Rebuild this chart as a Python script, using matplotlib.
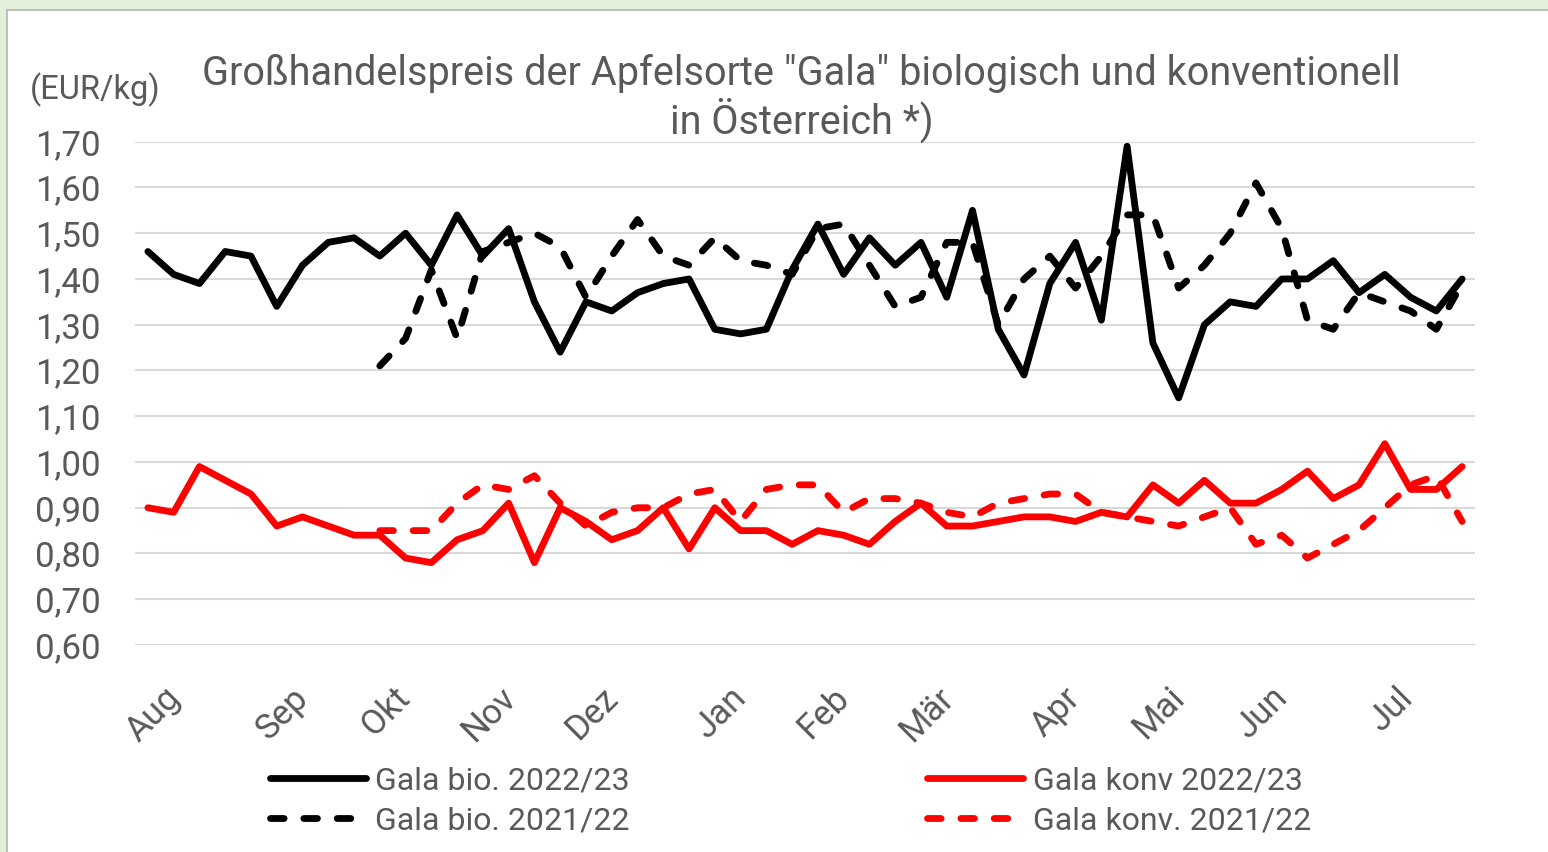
import matplotlib
matplotlib.use("Agg")
import matplotlib.pyplot as plt
from matplotlib.patches import Rectangle
from matplotlib.transforms import ScaledTranslation
import numpy as np

plt.rcParams['font.family'] = ['Roboto', 'DejaVu Sans']

# weekly prices Aug 2022 - Jul 2023 (52 weeks), EUR/kg
nan = np.nan
bio_2223 = [1.46, 1.41, 1.39, 1.46, 1.45, 1.34, 1.43, 1.48, 1.49, 1.45,
            1.50, 1.43, 1.54, 1.45, 1.51, 1.35, 1.24, 1.35, 1.33, 1.37,
            1.39, 1.40, 1.29, 1.28, 1.29, 1.42, 1.52, 1.41, 1.49, 1.43,
            1.48, 1.36, 1.55, 1.29, 1.19, 1.39, 1.48, 1.31, 1.69, 1.26,
            1.14, 1.30, 1.35, 1.34, 1.40, 1.40, 1.44, 1.37, 1.41, 1.36,
            1.33, 1.40]
bio_2122 = [nan, nan, nan, nan, nan, nan, nan, nan, nan, 1.21,
            1.27, 1.42, 1.27, 1.46, 1.48, 1.50, 1.47, 1.36, 1.45, 1.53,
            1.45, 1.43, 1.49, 1.44, 1.43, 1.41, 1.51, 1.52, 1.43, 1.34,
            1.36, 1.48, 1.48, 1.30, 1.40, 1.45, 1.38, 1.45, 1.54, 1.54,
            1.38, 1.43, 1.50, 1.61, 1.51, 1.31, 1.29, 1.37, 1.35, 1.33,
            1.29, 1.39]
konv_2223 = [0.90, 0.89, 0.99, 0.96, 0.93, 0.86, 0.88, 0.86, 0.84, 0.84,
             0.79, 0.78, 0.83, 0.85, 0.91, 0.78, 0.90, 0.87, 0.83, 0.85,
             0.90, 0.81, 0.90, 0.85, 0.85, 0.82, 0.85, 0.84, 0.82, 0.87,
             0.91, 0.86, 0.86, 0.87, 0.88, 0.88, 0.87, 0.89, 0.88, 0.95,
             0.91, 0.96, 0.91, 0.91, 0.94, 0.98, 0.92, 0.95, 1.04, 0.94,
             0.94, 0.99]
konv_2122 = [nan, nan, nan, nan, nan, nan, nan, nan, nan, 0.85,
             0.85, 0.85, 0.91, 0.95, 0.94, 0.97, 0.91, 0.86, 0.89, 0.90,
             0.90, 0.93, 0.94, 0.87, 0.94, 0.95, 0.95, 0.89, 0.92, 0.92,
             0.91, 0.89, 0.88, 0.91, 0.92, 0.93, 0.93, 0.89, 0.88, 0.87,
             0.86, 0.88, 0.90, 0.82, 0.84, 0.79, 0.82, 0.85, 0.90, 0.95,
             0.97, 0.87]
month_pos = [0, 5, 9, 13, 17, 22, 26, 30, 35, 39, 43, 48]
month_lbl = ["Aug", "Sep", "Okt", "Nov", "Dez", "Jan", "Feb", "Mär", "Apr", "Mai", "Jun", "Jul"]

grey = '#595959'
fig = plt.figure(figsize=(15.48, 8.52), dpi=100)
fig.patch.set_facecolor('#E2EFDA')
fig.patches.append(Rectangle((7/1548, -0.1), 1.1, 1 - 10/852 + 0.1, transform=fig.transFigure,
                             facecolor='white', edgecolor='#BFBFBF', linewidth=1.5, zorder=-10))

ax = fig.add_axes([135/1548, 1 - 645/852, (1475 - 135)/1548, (645 - 141.7)/852])
ax.set_facecolor('none')
x = np.arange(len(bio_2223))

kw = dict(solid_capstyle='round', dash_capstyle='round', solid_joinstyle='round', dash_joinstyle='round')
lw = 4.9
dash = (2.0, 2.9)
l1, = ax.plot(x, bio_2223, color='black', lw=lw, **kw)
l2, = ax.plot(x, bio_2122, color='black', lw=lw, dashes=dash, **kw)
l3, = ax.plot(x, konv_2223, color='#FF0000', lw=lw, **kw)
l4, = ax.plot(x, konv_2122, color='#FF0000', lw=lw, dashes=dash, **kw)

ax.set_xlim(-0.5, len(x) - 0.5)
ax.set_ylim(0.6, 1.7)
ax.set_yticks(np.arange(0.6, 1.71, 0.1))
ax.set_yticklabels([f"{v:.2f}".replace('.', ',') for v in np.arange(0.6, 1.71, 0.1)])
ax.grid(axis='y', color='#D9D9D9', lw=1.5)
ax.set_axisbelow(True)
for s in ax.spines.values():
    s.set_visible(False)
ax.tick_params(axis='y', length=0, pad=25, labelsize=25, labelcolor=grey)
ax.set_xticks(month_pos)
ax.set_xticklabels(month_lbl, rotation=45, ha='center')
ax.tick_params(axis='x', length=0, pad=26, labelsize=25, labelcolor=grey)
shift = ScaledTranslation(6/100, 0, fig.dpi_scale_trans)
for t in ax.get_xticklabels():
    t.set_transform(t.get_transform() + shift)

fig.text(0.518, 1 - 73/852, 'Großhandelspreis der Apfelsorte "Gala" biologisch und konventionell',
         ha='center', va='center', fontsize=28.5, color=grey)
fig.text(0.518, 1 - 120/852, 'in Österreich *)', ha='center', va='center', fontsize=28.5, color=grey)
fig.text(95/1548, 1 - 90/852, '(EUR/kg)', ha='center', va='center', fontsize=23.5, color=grey)

fig.legend([l1, l2, l3, l4],
           ["Gala bio. 2022/23", "Gala bio. 2021/22", "Gala konv 2022/23", "Gala konv. 2021/22"],
           ncol=2, loc='center left', bbox_to_anchor=(254/1548, 1 - 801/852), frameon=False,
           fontsize=23, labelcolor=grey, handlelength=3.0, handletextpad=0.3,
           columnspacing=9.3, labelspacing=0.35, borderpad=0)

fig.savefig('out.png', dpi=100, facecolor=fig.get_facecolor())
